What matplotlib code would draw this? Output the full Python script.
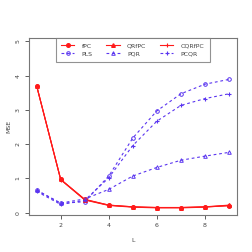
import numpy as np
import matplotlib
matplotlib.use("Agg")
import matplotlib.pyplot as plt

# number of components
L = [1, 2, 3, 4, 5, 6, 7, 8, 9]

# MSE per method
fpc = [3.70, 0.97, 0.39, 0.22, 0.17, 0.15, 0.15, 0.17, 0.20]
qrfpc = [3.70, 0.97, 0.38, 0.22, 0.17, 0.15, 0.15, 0.17, 0.22]
cqrfpc = [3.70, 0.96, 0.37, 0.21, 0.16, 0.14, 0.14, 0.16, 0.21]
pls = [0.65, 0.27, 0.32, 1.07, 2.18, 2.97, 3.47, 3.75, 3.89]
pqr = [0.66, 0.28, 0.40, 0.68, 1.07, 1.32, 1.53, 1.65, 1.76]
pcqr = [0.62, 0.24, 0.36, 1.02, 1.96, 2.67, 3.13, 3.33, 3.47]

y_ticks = [0, 1, 2, 3, 4, 5]
x_ticks = [2, 4, 6, 8]

red = "#ff1a1a"
blue = "#5a35f0"
grey = "#444444"
fs = 4.5

fig = plt.figure(figsize=(2.52, 2.52), dpi=100)
ax = fig.add_axes([0.115, 0.147, 0.824, 0.701])

lw = 0.8
ms = 2.6
dash = (0, (2.5, 2.5))
ax.plot(L, fpc, color=red, lw=lw, marker="o", ms=ms, label="fPC")
ax.plot(L, pls, color=blue, lw=lw, ls=dash, marker="o", ms=ms,
        mfc="none", mew=0.7, label="PLS")
ax.plot(L, qrfpc, color=red, lw=lw, marker="^", ms=ms, label="QRfPC")
ax.plot(L, pqr, color=blue, lw=lw, ls=dash, marker="^", ms=ms,
        mfc="none", mew=0.7, label="PQR")
ax.plot(L, cqrfpc, color=red, lw=lw, marker="+", ms=3.5, mew=0.8,
        label="CQRfPC")
ax.plot(L, pcqr, color=blue, lw=lw, ls=dash, marker="+", ms=3.5,
        mew=0.8, label="PCQR")

ax.set_xlim(0.68, 9.32)
ax.set_ylim(-0.067, 5.09)
ax.set_xticks(x_ticks)
ax.set_yticks(y_ticks)
ax.tick_params(colors=grey, labelsize=fs, length=3, width=0.6, pad=3)
for lab in ax.get_yticklabels():
    lab.set_rotation(90)
    lab.set_va("center")
for sp in ax.spines.values():
    sp.set_color("#777777")
    sp.set_linewidth(0.8)

ax.set_xlabel("L", fontsize=fs, color=grey, labelpad=7)
ax.set_ylabel("MSE", fontsize=fs, color=grey, labelpad=3)

leg = ax.legend(loc="upper center", ncol=3, fontsize=fs, frameon=True,
                fancybox=False, borderaxespad=0, handlelength=2.1,
                columnspacing=2.2, handletextpad=1.2, borderpad=0.8,
                labelspacing=0.4)
leg.get_frame().set_edgecolor("#777777")
leg.get_frame().set_linewidth(0.8)
for t in leg.get_texts():
    t.set_color(grey)

fig.savefig("out.png", dpi=100)
